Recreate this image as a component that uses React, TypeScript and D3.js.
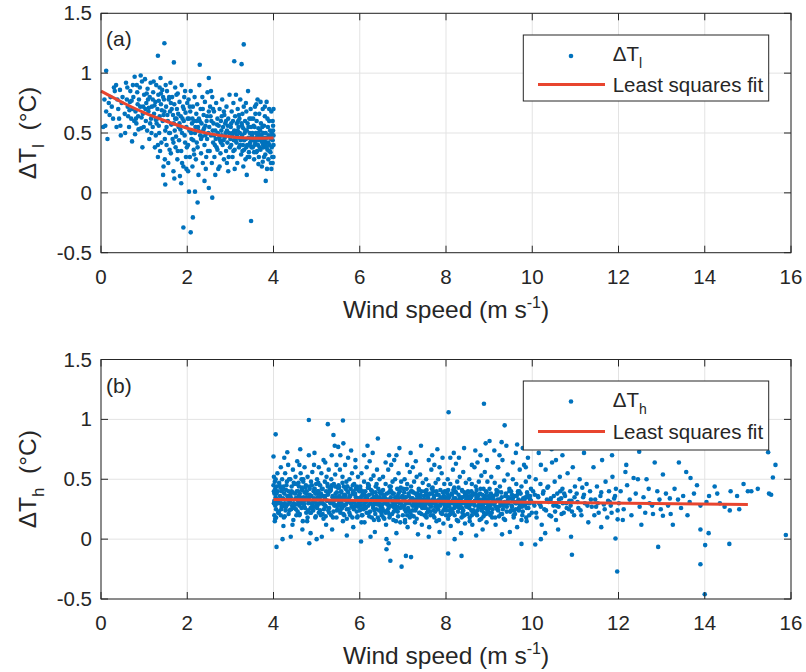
import React from "react";
import * as d3 from "d3";

type P = [number, number];

// ---------- Panel (a): ΔT_l vs wind speed (0–4 m/s) ----------
const lowWind0to1: P[] = [
  [0.12,1.02],[0.05,0.55],[0.1,0.56],[0.15,0.45],[0.2,0.65],[0.25,0.72],[0.3,0.88],[0.32,0.85],[0.35,0.9],[0.38,0.78],[0.4,0.7],[0.42,0.62],[0.45,0.56],[0.48,0.75],[0.5,0.8],[0.12,0.68],[0.22,0.8],[0.28,0.62],[0.36,0.55],[0.44,0.86],[0.46,0.48],[0.18,0.75],[0.08,0.78],
  [0.55,0.66],[0.58,0.92],[0.6,0.78],[0.62,0.72],[0.65,0.55],[0.68,0.85],[0.7,0.62],[0.72,0.43],[0.75,0.8],[0.78,0.97],[0.8,0.68],[0.82,0.58],[0.85,0.74],[0.87,0.53],[0.9,0.88],[0.92,0.98],[0.94,0.63],[0.96,0.38],[0.98,0.72],[1.0,0.82],[0.56,0.5],[0.63,0.64],[0.67,0.76],[0.73,0.7],[0.77,0.6],[0.83,0.9],[0.86,0.64],[0.88,0.78],[0.93,0.54],[0.97,0.66],[0.99,0.55],[0.61,0.88],[0.71,0.77],[0.79,0.49],[0.84,0.84],[0.91,0.72],[0.95,0.93],[0.66,0.69],[0.74,0.9],[0.81,0.62],
];
const lowWind1to2: P[] = [
  [1.47,1.25],[1.32,1.145],[1.69,1.09],[1.49,0.07],[1.91,-0.29],
  [1.02,0.95],[1.04,0.6],[1.05,0.75],[1.07,0.52],[1.08,0.87],[1.1,0.68],[1.12,0.45],[1.13,0.8],[1.15,0.92],[1.16,0.62],[1.18,0.72],[1.2,0.55],[1.21,0.84],[1.23,0.66],[1.25,0.38],[1.26,0.76],[1.28,0.9],[1.29,0.58],[1.31,0.7],[1.32,0.3],[1.33,0.82],[1.35,0.5],[1.36,0.64],[1.38,0.96],[1.39,0.74],[1.4,0.42],[1.42,0.86],[1.43,0.6],[1.45,0.22],[1.46,0.78],[1.47,0.68],[1.49,0.52],[1.5,0.9],[1.03,0.7],[1.09,0.78],[1.14,0.58],[1.19,0.64],[1.24,0.73],[1.27,0.48],[1.3,0.62],[1.34,0.77],[1.37,0.35],[1.41,0.69],[1.44,0.8],[1.48,0.45],[1.06,0.83],[1.11,0.71],[1.17,0.5],[1.22,0.93],[1.34,0.56],[1.39,0.83],[1.45,0.65],[1.32,0.4],[1.48,0.28],[1.44,0.15],[1.36,0.88],[1.27,0.61],[1.2,0.78],
  [1.51,0.72],[1.52,0.4],[1.53,0.85],[1.55,0.6],[1.56,0.25],[1.57,0.78],[1.58,0.5],[1.6,0.68],[1.61,0.92],[1.62,0.33],[1.63,0.57],[1.65,0.8],[1.66,0.45],[1.67,0.65],[1.68,0.18],[1.7,0.74],[1.71,0.52],[1.72,0.88],[1.73,0.38],[1.75,0.62],[1.76,0.7],[1.77,0.28],[1.78,0.83],[1.8,0.55],[1.81,0.44],[1.82,0.76],[1.83,0.14],[1.85,0.64],[1.86,0.35],[1.87,0.9],[1.88,0.5],[1.9,0.72],[1.91,0.22],[1.92,0.6],[1.93,0.8],[1.95,0.42],[1.96,0.67],[1.97,0.3],[1.98,0.55],[2.0,0.75],[1.54,0.65],[1.59,0.36],[1.64,0.7],[1.69,0.58],[1.74,0.47],[1.79,0.66],[1.84,0.53],[1.89,0.62],[1.94,0.48],[1.99,0.38],[1.52,0.55],[1.62,0.75],[1.72,0.62],[1.82,0.58],[1.92,0.7],[1.58,0.8],[1.68,0.42],[1.78,0.35],[1.88,0.25],[1.98,0.2],[1.7,0.12],[1.86,0.08],[1.6,0.5],[1.75,0.82],[1.95,0.85],
];
const lowWind2to3: P[] = [
  [2.29,1.07],[2.5,0.96],[2.04,0.01],[2.18,0.01],[2.24,-0.08],[2.13,-0.205],[2.08,-0.33],[2.5,0.04],[2.58,-0.04],
  [2.01,0.62],[2.02,0.4],[2.03,0.78],[2.05,0.52],[2.06,0.3],[2.07,0.68],[2.08,0.85],[2.1,0.45],[2.11,0.58],[2.12,0.22],[2.13,0.72],[2.15,0.36],[2.16,0.6],[2.17,0.8],[2.18,0.5],[2.2,0.28],[2.21,0.66],[2.22,0.42],[2.23,0.74],[2.25,0.55],[2.26,0.15],[2.27,0.62],[2.28,0.9],[2.3,0.48],[2.31,0.7],[2.32,0.33],[2.33,0.58],[2.35,0.8],[2.36,0.25],[2.37,0.52],[2.38,0.65],[2.4,0.4],[2.41,0.76],[2.42,0.56],[2.43,0.2],[2.45,0.6],[2.46,0.45],[2.47,0.84],[2.48,0.35],[2.5,0.68],[2.04,0.62],[2.09,0.5],[2.14,0.44],[2.19,0.55],[2.24,0.38],[2.29,0.6],[2.34,0.47],[2.39,0.54],[2.44,0.3],[2.49,0.5],[2.06,0.72],[2.16,0.32],[2.26,0.52],[2.36,0.7],[2.46,0.64],[2.12,0.62],[2.22,0.6],[2.32,0.45],[2.42,0.48],[2.02,0.18],[2.4,0.1],
  [2.51,0.55],[2.52,0.35],[2.53,0.72],[2.55,0.48],[2.56,0.6],[2.57,0.25],[2.58,0.8],[2.6,0.42],[2.61,0.58],[2.62,0.68],[2.63,0.3],[2.65,0.52],[2.66,0.45],[2.67,0.75],[2.68,0.38],[2.7,0.62],[2.71,0.5],[2.72,0.2],[2.73,0.56],[2.75,0.7],[2.76,0.44],[2.77,0.33],[2.78,0.6],[2.8,0.48],[2.81,0.78],[2.82,0.4],[2.83,0.55],[2.85,0.28],[2.86,0.65],[2.87,0.46],[2.88,0.58],[2.9,0.35],[2.91,0.72],[2.92,0.52],[2.93,0.42],[2.95,0.62],[2.96,0.3],[2.97,0.5],[2.98,0.82],[3.0,0.45],[2.54,0.64],[2.59,0.52],[2.64,0.4],[2.69,0.57],[2.74,0.46],[2.79,0.52],[2.84,0.44],[2.89,0.5],[2.94,0.56],[2.99,0.38],[2.55,0.85],[2.65,0.15],[2.75,0.22],[2.85,0.68],[2.95,0.18],[2.6,0.7],[2.7,0.36],[2.8,0.64],[2.9,0.6],[2.62,0.48],[2.78,0.42],[2.92,0.25],
];
const lowWind3to4: P[] = [
  [3.09,1.1],[3.26,1.075],[3.31,1.24],[3.48,-0.235],[3.82,0.1],[3.38,0.15],
  [3.01,0.55],[3.02,0.4],[3.03,0.68],[3.04,0.48],[3.05,0.3],[3.06,0.6],[3.07,0.75],[3.08,0.44],[3.09,0.52],[3.1,0.36],[3.11,0.64],[3.12,0.5],[3.13,0.82],[3.14,0.42],[3.15,0.58],[3.16,0.25],[3.17,0.7],[3.18,0.46],[3.19,0.55],[3.2,0.38],[3.21,0.62],[3.22,0.5],[3.23,0.78],[3.24,0.44],[3.25,0.32],[3.26,0.58],[3.27,0.48],[3.28,0.66],[3.29,0.4],[3.3,0.54],[3.31,0.72],[3.32,0.36],[3.33,0.5],[3.34,0.6],[3.35,0.28],[3.36,0.45],[3.37,0.68],[3.38,0.52],[3.39,0.4],[3.4,0.58],[3.41,0.85],[3.42,0.46],[3.43,0.34],[3.44,0.62],[3.45,0.5],[3.46,0.42],[3.47,0.7],[3.48,0.55],[3.49,0.38],[3.5,0.48],[3.02,0.58],[3.07,0.35],[3.12,0.44],[3.17,0.52],[3.22,0.4],[3.27,0.56],[3.32,0.44],[3.37,0.38],[3.42,0.55],[3.47,0.45],[3.05,0.5],[3.15,0.48],[3.25,0.45],[3.35,0.52],[3.45,0.4],[3.1,0.2],[3.3,0.22],[3.4,0.3],[3.2,0.65],[3.36,0.75],[3.44,0.3],[3.48,0.62],[3.28,0.35],[3.18,0.6],
  [3.51,0.5],[3.52,0.38],[3.53,0.62],[3.54,0.44],[3.55,0.28],[3.56,0.55],[3.57,0.72],[3.58,0.42],[3.59,0.5],[3.6,0.34],[3.61,0.6],[3.62,0.47],[3.63,0.78],[3.64,0.4],[3.65,0.54],[3.66,0.3],[3.67,0.66],[3.68,0.45],[3.69,0.52],[3.7,0.36],[3.71,0.58],[3.72,0.48],[3.73,0.22],[3.74,0.42],[3.75,0.7],[3.76,0.5],[3.77,0.38],[3.78,0.56],[3.79,0.44],[3.8,0.64],[3.81,0.32],[3.82,0.5],[3.83,0.42],[3.84,0.76],[3.85,0.46],[3.86,0.36],[3.87,0.55],[3.88,0.28],[3.89,0.48],[3.9,0.6],[3.91,0.4],[3.92,0.52],[3.93,0.34],[3.94,0.45],[3.95,0.68],[3.96,0.5],[3.97,0.3],[3.98,0.44],[3.99,0.56],[4.0,0.4],[3.52,0.46],[3.56,0.4],[3.6,0.45],[3.64,0.5],[3.68,0.38],[3.72,0.44],[3.76,0.4],[3.8,0.46],[3.84,0.38],[3.88,0.42],[3.92,0.47],[3.96,0.38],[4.0,0.48],[3.54,0.56],[3.62,0.35],[3.7,0.48],[3.78,0.3],[3.86,0.62],[3.94,0.25],[3.58,0.66],[3.66,0.44],[3.74,0.55],[3.82,0.4],[3.9,0.35],[3.98,0.6],[3.98,0.25],[4.0,0.3],[3.95,0.2],[3.85,0.2],[3.75,0.26],[3.65,0.24],[3.55,0.34],[3.6,0.74],[3.7,0.76],[3.8,0.72],[3.9,0.7],[4.0,0.7],[3.99,0.52],
];
const lowWindFit: P[] = [[0,0.85],[0.5,0.755],[1,0.67],[1.5,0.6],[2,0.54],[2.5,0.495],[3,0.468],[3.5,0.456],[4,0.458]];

// ---------- Panel (b): ΔT_h vs wind speed (4–16 m/s) ----------
const highWind4to6: P[] = [
  [4.05,0.875],[4.0,0.69],[4.32,0.725],[4.07,-0.065],[4.21,0.0],[4.23,0.11],[4.83,-0.035],[4.82,0.995],[5.26,0.96],[5.61,0.99],[5.39,0.87],[5.42,0.78],[5.5,0.77],
  [4.0,0.45],[4.01,0.3],[4.01,0.52],[4.02,0.38],[4.02,0.2],[4.03,0.48],[4.03,0.15],[4.04,0.42],[4.04,0.28],[4.05,0.5],[4.05,0.35],[4.06,0.25],[4.07,0.44],[4.08,0.32],[4.09,0.55],[4.1,0.4],[4.12,0.22],[4.13,0.47],[4.15,0.36],[4.17,0.6],[4.18,0.3],[4.2,0.5],[4.22,0.42],[4.24,0.18],[4.25,0.38],[4.27,0.55],[4.29,0.27],[4.3,0.45],[4.32,0.33],[4.34,0.62],[4.35,0.4],[4.37,0.24],[4.39,0.5],[4.4,0.35],[4.42,0.44],[4.44,0.12],[4.45,0.58],[4.47,0.3],[4.48,0.46],[4.5,0.38],[4.11,0.32],[4.19,0.4],[4.26,0.3],[4.36,0.5],[4.43,0.28],
  [4.51,0.52],[4.52,0.25],[4.54,0.4],[4.55,0.65],[4.57,0.32],[4.58,0.47],[4.6,0.2],[4.61,0.38],[4.63,0.55],[4.64,0.3],[4.66,0.43],[4.67,0.08],[4.69,0.5],[4.7,0.35],[4.72,0.6],[4.73,0.26],[4.75,0.45],[4.76,0.38],[4.78,0.15],[4.79,0.52],[4.81,0.32],[4.82,0.7],[4.84,0.42],[4.85,0.22],[4.87,0.48],[4.88,0.36],[4.9,0.56],[4.91,0.28],[4.93,0.4],[4.94,0.62],[4.96,0.33],[4.97,0.18],[4.99,0.46],[5.0,0.3],[4.53,0.34],[4.59,0.44],[4.65,0.5],[4.71,0.29],[4.77,0.4],[4.83,0.35],[4.89,0.26],[4.95,0.42],[4.62,0.75],[4.86,0.05],
  [5.01,0.5],[5.02,0.28],[5.04,0.4],[5.05,0.6],[5.07,0.34],[5.08,0.45],[5.1,0.2],[5.11,0.55],[5.13,0.3],[5.14,0.42],[5.16,0.66],[5.17,0.25],[5.19,0.48],[5.2,0.36],[5.22,0.12],[5.23,0.52],[5.25,0.32],[5.26,0.44],[5.28,0.58],[5.29,0.22],[5.31,0.4],[5.32,0.3],[5.34,0.5],[5.35,0.7],[5.37,0.35],[5.38,0.18],[5.4,0.46],[5.41,0.28],[5.43,0.54],[5.44,0.38],[5.46,0.62],[5.47,0.24],[5.49,0.43],[5.5,0.33],[5.03,0.38],[5.09,0.3],[5.15,0.36],[5.21,0.27],[5.27,0.38],[5.33,0.41],[5.39,0.32],[5.45,0.28],[5.12,0.02],[5.36,0.08],
  [5.51,0.45],[5.52,0.3],[5.54,0.58],[5.55,0.22],[5.57,0.4],[5.58,0.34],[5.6,0.52],[5.61,0.15],[5.63,0.44],[5.64,0.28],[5.66,0.62],[5.67,0.36],[5.69,0.48],[5.7,0.25],[5.72,0.4],[5.73,0.68],[5.75,0.32],[5.76,0.5],[5.78,0.2],[5.79,0.42],[5.81,0.3],[5.82,0.55],[5.84,0.38],[5.85,0.1],[5.87,0.46],[5.88,0.27],[5.9,0.6],[5.91,0.35],[5.93,0.44],[5.94,0.18],[5.96,0.52],[5.97,0.3],[5.99,0.4],[6.0,0.24],[5.53,0.36],[5.59,0.27],[5.65,0.33],[5.71,0.44],[5.77,0.36],[5.83,0.31],[5.89,0.38],[5.95,0.34],[5.62,0.8],[5.8,0.74],
];
const highWind6to8: P[] = [
  [6.03,-0.02],[6.62,-0.085],[6.67,-0.035],[6.71,-0.18],[6.97,-0.23],[7.07,-0.14],[7.19,-0.15],
  [6.01,0.42],[6.02,0.28],[6.04,0.55],[6.05,0.2],[6.07,0.38],[6.08,0.32],[6.1,0.48],[6.11,0.14],[6.13,0.4],[6.14,0.26],[6.16,0.6],[6.17,0.34],[6.19,0.46],[6.2,0.22],[6.22,0.37],[6.23,0.65],[6.25,0.3],[6.26,0.5],[6.28,0.18],[6.29,0.4],[6.31,0.28],[6.32,0.53],[6.34,0.35],[6.35,0.06],[6.37,0.44],[6.38,0.25],[6.4,0.58],[6.41,0.33],[6.43,0.42],[6.44,0.16],[6.46,0.5],[6.47,0.29],[6.49,0.38],[6.5,0.22],[6.03,0.35],[6.09,0.25],[6.15,0.31],[6.21,0.43],[6.27,0.33],[6.33,0.29],[6.39,0.36],[6.45,0.32],[6.18,0.78],[6.3,0.72],[6.42,0.84],
  [6.51,0.4],[6.52,0.26],[6.54,0.52],[6.55,0.18],[6.57,0.36],[6.58,0.3],[6.6,0.46],[6.61,0.12],[6.63,0.38],[6.64,0.24],[6.66,0.58],[6.67,0.32],[6.69,0.44],[6.7,0.2],[6.72,0.35],[6.73,0.62],[6.75,0.28],[6.76,0.48],[6.78,0.16],[6.79,0.38],[6.81,0.26],[6.82,0.5],[6.84,0.33],[6.85,0.05],[6.87,0.42],[6.88,0.23],[6.9,0.55],[6.91,0.31],[6.93,0.4],[6.94,0.14],[6.96,0.48],[6.97,0.27],[6.99,0.36],[7.0,0.2],[6.53,0.33],[6.59,0.23],[6.65,0.29],[6.71,0.41],[6.77,0.31],[6.83,0.27],[6.89,0.34],[6.95,0.3],[6.68,0.7],[6.8,0.66],[6.92,0.76],[6.62,0.0],
  [7.01,0.42],[7.02,0.28],[7.04,0.5],[7.05,0.16],[7.07,0.35],[7.08,0.3],[7.1,0.46],[7.11,0.1],[7.13,0.38],[7.14,0.24],[7.16,0.56],[7.17,0.32],[7.19,0.44],[7.2,0.2],[7.22,0.34],[7.23,0.6],[7.25,0.28],[7.26,0.48],[7.28,0.14],[7.29,0.38],[7.31,0.26],[7.32,0.52],[7.34,0.33],[7.35,0.04],[7.37,0.42],[7.38,0.22],[7.4,0.54],[7.41,0.31],[7.43,0.4],[7.44,0.12],[7.46,0.47],[7.47,0.27],[7.49,0.36],[7.5,0.2],[7.03,0.34],[7.09,0.24],[7.15,0.3],[7.21,0.4],[7.27,0.31],[7.33,0.28],[7.39,0.35],[7.45,0.3],[7.18,0.72],[7.3,0.65],[7.42,0.78],
  [7.51,0.4],[7.52,0.27],[7.54,0.5],[7.55,0.18],[7.57,0.36],[7.58,0.3],[7.6,0.45],[7.61,0.1],[7.63,0.38],[7.64,0.23],[7.66,0.58],[7.67,0.32],[7.69,0.43],[7.7,0.2],[7.72,0.34],[7.73,0.62],[7.75,0.27],[7.76,0.47],[7.78,0.15],[7.79,0.37],[7.81,0.25],[7.82,0.5],[7.84,0.33],[7.85,0.06],[7.87,0.41],[7.88,0.22],[7.9,0.55],[7.91,0.3],[7.93,0.39],[7.94,0.13],[7.96,0.46],[7.97,0.26],[7.99,0.35],[8.0,0.2],[7.53,0.33],[7.59,0.24],[7.65,0.29],[7.71,0.4],[7.77,0.31],[7.83,0.28],[7.89,0.34],[7.95,0.3],[7.68,0.7],[7.8,0.75],[7.92,0.68],
];
const highWind8to10: P[] = [
  [8.06,1.06],[8.88,1.13],[9.36,0.95],[9.01,0.82],[9.29,0.81],[9.65,0.79],[8.05,-0.12],[8.36,-0.14],[9.75,-0.04],
  [8.01,0.4],[8.02,0.27],[8.04,0.5],[8.05,0.17],[8.07,0.35],[8.08,0.3],[8.1,0.46],[8.11,0.11],[8.13,0.38],[8.14,0.24],[8.16,0.58],[8.17,0.32],[8.19,0.43],[8.2,0.2],[8.22,0.34],[8.23,0.63],[8.25,0.28],[8.26,0.48],[8.28,0.15],[8.29,0.37],[8.31,0.26],[8.32,0.52],[8.34,0.33],[8.35,0.05],[8.37,0.41],[8.38,0.22],[8.4,0.56],[8.41,0.31],[8.43,0.39],[8.44,0.13],[8.46,0.47],[8.47,0.27],[8.49,0.36],[8.5,0.21],[8.03,0.33],[8.09,0.24],[8.15,0.3],[8.21,0.4],[8.27,0.31],[8.33,0.28],[8.39,0.35],[8.45,0.3],[8.18,0.72],[8.3,0.68],[8.42,0.76],
  [8.51,0.4],[8.52,0.28],[8.54,0.5],[8.55,0.18],[8.57,0.36],[8.58,0.3],[8.6,0.46],[8.61,0.12],[8.63,0.38],[8.64,0.24],[8.66,0.6],[8.67,0.32],[8.69,0.44],[8.7,0.21],[8.72,0.34],[8.73,0.64],[8.75,0.28],[8.76,0.48],[8.78,0.16],[8.79,0.38],[8.81,0.26],[8.82,0.53],[8.84,0.33],[8.85,0.08],[8.87,0.42],[8.88,0.22],[8.9,0.56],[8.91,0.31],[8.93,0.4],[8.94,0.14],[8.96,0.48],[8.97,0.27],[8.99,0.36],[9.0,0.22],[8.53,0.33],[8.59,0.24],[8.65,0.3],[8.71,0.41],[8.77,0.31],[8.83,0.28],[8.89,0.35],[8.95,0.3],[8.68,0.74],[8.8,0.7],[8.92,0.8],
  [9.01,0.42],[9.03,0.28],[9.05,0.52],[9.07,0.18],[9.09,0.36],[9.11,0.3],[9.13,0.47],[9.15,0.12],[9.17,0.38],[9.19,0.25],[9.21,0.6],[9.23,0.33],[9.25,0.44],[9.27,0.21],[9.29,0.35],[9.31,0.66],[9.33,0.28],[9.35,0.49],[9.37,0.16],[9.39,0.38],[9.41,0.27],[9.43,0.54],[9.45,0.34],[9.47,0.42],[9.49,0.23],[9.02,0.34],[9.08,0.25],[9.14,0.31],[9.2,0.4],[9.26,0.32],[9.32,0.29],[9.38,0.36],[9.44,0.3],[9.12,0.74],[9.24,0.7],[9.4,0.78],[9.48,0.06],
  [9.51,0.4],[9.53,0.27],[9.55,0.5],[9.57,0.18],[9.59,0.36],[9.61,0.3],[9.63,0.46],[9.65,0.1],[9.67,0.38],[9.69,0.24],[9.71,0.58],[9.73,0.32],[9.75,0.44],[9.77,0.2],[9.79,0.34],[9.81,0.62],[9.83,0.28],[9.85,0.48],[9.87,0.15],[9.89,0.37],[9.91,0.26],[9.93,0.52],[9.95,0.33],[9.97,0.42],[9.99,0.22],[9.52,0.34],[9.58,0.24],[9.64,0.3],[9.7,0.4],[9.76,0.31],[9.82,0.29],[9.88,0.35],[9.94,0.3],[9.62,0.72],[9.78,0.76],[9.9,0.68],
];
// dense core of the high-wind cloud (4–12 m/s, around 0.15–0.5 °C)
const highWindCore4to7: P[] = [
  [4.03,0.31],[4.11,0.22],[4.07,0.38],[4.19,0.27],[4.14,0.45],[4.26,0.19],[4.22,0.34],[4.33,0.29],[4.29,0.41],[4.41,0.25],[4.37,0.36],[4.46,0.16],[4.02,0.32],[4.16,0.43],[4.24,0.28],[4.35,0.21],[4.44,0.39],[4.09,0.33],[4.31,0.48],[4.48,0.26],[4.01,0.4],[4.06,0.18],[4.13,0.3],[4.21,0.42],[4.28,0.24],[4.39,0.37],[4.05,0.29],[4.47,0.47],[4.17,0.2],[4.34,0.34],[4.27,0.27],[4.42,0.4],[4.12,0.23],[4.38,0.31],[4.23,0.44],[4.04,0.17],[4.32,0.36],[4.45,0.28],[4.08,0.33],[4.18,0.25],
  [4.52,0.29],[4.58,0.36],[4.61,0.21],[4.66,0.41],[4.71,0.27],[4.74,0.33],[4.79,0.18],[4.83,0.44],[4.88,0.3],[4.92,0.24],[4.97,0.38],[4.54,0.46],[4.63,0.32],[4.68,0.15],[4.77,0.35],[4.86,0.26],[4.95,0.42],[4.56,0.23],[4.72,0.39],[4.9,0.29],[4.51,0.34],[4.6,0.28],[4.69,0.48],[4.76,0.22],[4.84,0.37],[4.93,0.31],[4.98,0.19],[4.57,0.4],[4.65,0.26],[4.81,0.3],[4.89,0.45],[4.53,0.2],[4.74,0.43],[4.96,0.27],[4.62,0.35],[4.87,0.22],[4.7,0.31],[4.8,0.24],[4.94,0.34],[4.59,0.3],
  [5.02,0.35],[5.08,0.24],[5.12,0.42],[5.17,0.29],[5.21,0.19],[5.26,0.37],[5.31,0.31],[5.35,0.45],[5.39,0.23],[5.44,0.33],[5.48,0.28],[5.04,0.47],[5.14,0.21],[5.22,0.4],[5.29,0.26],[5.37,0.36],[5.46,0.18],[5.06,0.3],[5.19,0.34],[5.33,0.43],[5.01,0.26],[5.1,0.38],[5.16,0.17],[5.24,0.32],[5.3,0.41],[5.41,0.29],[5.47,0.39],[5.05,0.22],[5.13,0.31],[5.27,0.24],[5.36,0.3],[5.43,0.44],[5.09,0.36],[5.2,0.28],[5.34,0.2],[5.45,0.35],[5.03,0.4],[5.25,0.46],[5.38,0.33],[5.49,0.25],
  [5.53,0.28],[5.57,0.39],[5.62,0.21],[5.66,0.33],[5.71,0.44],[5.74,0.25],[5.78,0.36],[5.83,0.18],[5.87,0.31],[5.91,0.42],[5.96,0.27],[5.51,0.35],[5.6,0.47],[5.68,0.29],[5.76,0.22],[5.85,0.4],[5.94,0.33],[5.55,0.24],[5.72,0.31],[5.89,0.37],[5.52,0.43],[5.59,0.26],[5.65,0.37],[5.7,0.17],[5.79,0.3],[5.84,0.45],[5.93,0.23],[5.98,0.34],[5.56,0.32],[5.64,0.2],[5.73,0.39],[5.81,0.27],[5.9,0.29],[5.97,0.41],[5.58,0.3],[5.67,0.42],[5.75,0.34],[5.86,0.25],[5.95,0.19],[5.63,0.36],
  [6.02,0.31],[6.06,0.2],[6.11,0.37],[6.15,0.27],[6.19,0.43],[6.24,0.23],[6.28,0.33],[6.33,0.16],[6.37,0.39],[6.41,0.29],[6.46,0.35],[6.01,0.44],[6.09,0.26],[6.17,0.32],[6.26,0.41],[6.34,0.24],[6.43,0.3],[6.05,0.36],[6.22,0.19],[6.39,0.46],[6.03,0.25],[6.13,0.34],[6.2,0.28],[6.29,0.38],[6.36,0.21],[6.44,0.33],[6.48,0.27],[6.07,0.4],[6.16,0.22],[6.25,0.3],[6.32,0.35],[6.42,0.18],[6.1,0.29],[6.21,0.45],[6.31,0.26],[6.47,0.39],[6.04,0.14],[6.18,0.36],[6.35,0.31],[6.45,0.24],
  [6.52,0.29],[6.56,0.37],[6.6,0.22],[6.65,0.33],[6.69,0.18],[6.73,0.4],[6.78,0.27],[6.82,0.35],[6.86,0.24],[6.91,0.31],[6.95,0.43],[6.51,0.2],[6.59,0.34],[6.67,0.26],[6.76,0.38],[6.84,0.15],[6.93,0.3],[6.54,0.41],[6.71,0.28],[6.88,0.36],[6.53,0.25],[6.62,0.31],[6.68,0.39],[6.75,0.21],[6.8,0.32],[6.87,0.27],[6.97,0.35],[6.57,0.17],[6.64,0.29],[6.72,0.44],[6.79,0.23],[6.9,0.38],[6.58,0.33],[6.66,0.22],[6.83,0.3],[6.94,0.26],[6.55,0.36],[6.74,0.32],[6.89,0.19],[6.98,0.28],
];
const highWindCore7to12: P[] = [
  [7.02,0.27],[7.06,0.35],[7.1,0.2],[7.15,0.31],[7.19,0.4],[7.23,0.24],[7.28,0.33],[7.32,0.17],[7.36,0.29],[7.41,0.37],[7.45,0.26],[7.01,0.32],[7.09,0.42],[7.17,0.22],[7.26,0.3],[7.34,0.38],[7.43,0.21],[7.04,0.25],[7.21,0.34],[7.38,0.28],[7.03,0.39],[7.12,0.26],[7.18,0.33],[7.25,0.19],[7.3,0.31],[7.37,0.41],[7.47,0.3],[7.07,0.23],[7.14,0.36],[7.22,0.28],[7.29,0.24],[7.4,0.34],[7.08,0.3],[7.16,0.18],[7.33,0.36],[7.44,0.27],[7.05,0.14],[7.24,0.39],[7.39,0.22],[7.48,0.33],
  [7.52,0.3],[7.56,0.22],[7.6,0.37],[7.65,0.27],[7.69,0.33],[7.73,0.18],[7.78,0.4],[7.82,0.25],[7.86,0.31],[7.91,0.21],[7.95,0.36],[7.51,0.26],[7.59,0.34],[7.67,0.42],[7.76,0.29],[7.84,0.16],[7.93,0.33],[7.54,0.38],[7.71,0.24],[7.88,0.35],[7.53,0.19],[7.62,0.29],[7.68,0.38],[7.75,0.23],[7.8,0.32],[7.87,0.28],[7.97,0.4],[7.57,0.33],[7.64,0.2],[7.72,0.36],[7.79,0.27],[7.9,0.31],[7.58,0.25],[7.66,0.3],[7.83,0.37],[7.94,0.24],[7.55,0.41],[7.74,0.3],[7.89,0.22],[7.98,0.28],
  [8.02,0.29],[8.06,0.36],[8.1,0.21],[8.15,0.32],[8.19,0.26],[8.23,0.39],[8.28,0.23],[8.32,0.34],[8.36,0.18],[8.41,0.3],[8.45,0.37],[8.01,0.24],[8.09,0.31],[8.17,0.41],[8.26,0.27],[8.34,0.35],[8.43,0.2],[8.04,0.33],[8.21,0.28],[8.38,0.4],[8.03,0.38],[8.12,0.25],[8.18,0.34],[8.25,0.16],[8.3,0.3],[8.37,0.26],[8.47,0.33],[8.07,0.2],[8.14,0.37],[8.22,0.3],[8.29,0.43],[8.4,0.24],[8.08,0.27],[8.16,0.22],[8.33,0.29],[8.44,0.36],[8.05,0.41],[8.24,0.32],[8.39,0.19],[8.48,0.28],
  [8.52,0.27],[8.56,0.34],[8.6,0.2],[8.65,0.31],[8.69,0.38],[8.73,0.24],[8.78,0.33],[8.82,0.17],[8.86,0.29],[8.91,0.36],[8.95,0.25],[8.51,0.31],[8.59,0.4],[8.67,0.22],[8.76,0.28],[8.84,0.37],[8.93,0.21],[8.54,0.26],[8.71,0.35],[8.88,0.3],[8.53,0.39],[8.62,0.23],[8.68,0.32],[8.75,0.27],[8.8,0.42],[8.87,0.19],[8.97,0.33],[8.57,0.29],[8.64,0.37],[8.72,0.2],[8.79,0.3],[8.9,0.26],[8.58,0.35],[8.66,0.28],[8.83,0.24],[8.94,0.39],[8.55,0.15],[8.74,0.36],[8.89,0.32],[8.98,0.23],
  [9.02,0.3],[9.06,0.22],[9.1,0.36],[9.15,0.27],[9.19,0.33],[9.23,0.19],[9.28,0.39],[9.32,0.25],[9.36,0.31],[9.41,0.23],[9.45,0.35],[9.01,0.26],[9.09,0.33],[9.17,0.41],[9.26,0.28],[9.34,0.17],[9.43,0.32],[9.04,0.38],[9.21,0.24],[9.38,0.36],[9.03,0.2],[9.12,0.29],[9.18,0.37],[9.25,0.31],[9.3,0.21],[9.37,0.28],[9.47,0.4],[9.07,0.34],[9.14,0.18],[9.22,0.27],
  [9.52,0.28],[9.56,0.35],[9.6,0.21],[9.65,0.31],[9.69,0.26],[9.73,0.38],[9.78,0.23],[9.82,0.33],[9.86,0.18],[9.91,0.3],[9.95,0.36],[9.51,0.24],[9.59,0.31],[9.67,0.4],[9.76,0.27],[9.84,0.35],[9.93,0.2],[9.54,0.33],[9.71,0.29],[9.88,0.39],[9.53,0.37],[9.62,0.25],[9.68,0.33],[9.75,0.16],[9.8,0.3],[9.87,0.26],[9.97,0.32],[9.57,0.2],[9.64,0.36],[9.72,0.29],
  [10.03,0.3],[10.09,0.22],[10.14,0.35],[10.2,0.27],[10.26,0.4],[10.32,0.24],[10.38,0.31],[10.44,0.19],[10.5,0.36],[10.56,0.28],[10.62,0.33],[10.68,0.21],[10.74,0.38],[10.8,0.26],[10.86,0.32],[10.92,0.23],[10.98,0.35],[10.06,0.37],[10.18,0.29],[10.35,0.43],[10.53,0.23],[10.71,0.3],[10.89,0.28],[10.42,0.32],[10.65,0.4],
  [11.05,0.31],[11.12,0.24],[11.2,0.37],[11.28,0.28],[11.36,0.33],[11.44,0.2],[11.52,0.3],[11.6,0.39],[11.68,0.25],[11.76,0.32],[11.84,0.22],[11.92,0.36],[11.16,0.43],[11.48,0.27],[11.8,0.31],
];
const highWindTails: P[] = [
  [4.25,0.68],[4.6,0.62],[4.95,0.72],[5.2,0.64],[5.55,0.7],[5.9,0.66],[6.1,0.7],[6.6,0.64],[6.85,0.7],[7.1,0.62],[7.6,0.66],[7.85,0.6],[8.1,0.68],[8.6,0.62],[8.95,0.66],[9.2,0.6],[9.55,0.64],[9.85,0.6],[10.2,0.62],[10.55,0.66],
  [4.4,0.02],[5.0,0.0],[5.7,0.03],[6.25,0.02],[7.6,0.02],[8.2,0.0],[8.7,0.03],[9.3,0.04],
];
const highWind10to16: P[] = [
  [10.07,-0.045],[10.2,0.0],[10.92,-0.13],[11.97,-0.27],[12.92,-0.065],[13.9,-0.21],[14.0,-0.46],[14.01,-0.05],[14.57,-0.04],[14.09,0.05],[13.9,0.08],[15.88,0.035],[12.48,0.73],[15.47,0.725],[15.64,0.62],[15.58,0.515],
  [10.02,0.4],[10.05,0.28],[10.08,0.5],[10.1,0.18],[10.13,0.36],[10.16,0.3],[10.19,0.46],[10.22,0.12],[10.25,0.38],[10.28,0.25],[10.31,0.58],[10.34,0.33],[10.37,0.44],[10.4,0.2],[10.43,0.34],[10.46,0.64],[10.49,0.28],[10.52,0.48],[10.55,0.16],[10.58,0.38],[10.61,0.27],[10.64,0.52],[10.67,0.34],[10.7,0.42],[10.73,0.22],[10.76,0.36],[10.79,0.3],[10.82,0.55],[10.85,0.25],[10.88,0.4],[10.91,0.32],[10.94,0.6],[10.97,0.2],[10.99,0.44],[10.15,0.72],[10.45,0.75],[10.7,0.7],[10.3,0.05],[10.6,0.08],[10.9,0.02],
  [11.03,0.38],[11.07,0.26],[11.1,0.5],[11.14,0.2],[11.18,0.35],[11.22,0.3],[11.26,0.46],[11.3,0.14],[11.34,0.4],[11.38,0.27],[11.42,0.6],[11.46,0.33],[11.5,0.44],[11.54,0.22],[11.58,0.36],[11.62,0.66],[11.66,0.29],[11.7,0.48],[11.74,0.18],[11.78,0.4],[11.82,0.28],[11.86,0.52],[11.9,0.34],[11.94,0.42],[11.98,0.24],[11.2,0.72],[11.6,0.1],[11.85,0.7],
  [12.18,0.62],[12.16,0.56],[12.35,0.51],[12.65,0.5],[12.84,0.64],[13.03,0.54],[13.4,0.64],[13.57,0.56],[13.67,0.51],[13.82,0.45],[14.23,0.44],[14.29,0.38],[14.75,0.36],[14.9,0.46],[15.0,0.4],[15.08,0.4],[15.23,0.42],[15.49,0.38],[15.54,0.37],
  [11.98,0.165],[12.1,0.16],[12.53,0.12],[13.26,0.12],[11.93,0.005],[13.03,0.195],[13.21,0.21],[12.8,0.21],
  [12.01,0.3],[12.26,0.33],[12.49,0.27],[12.72,0.3],[12.95,0.33],[13.19,0.34],[13.38,0.33],[13.65,0.31],[14.04,0.31],[14.46,0.27],[14.58,0.24],
  [12.05,0.4],[12.12,0.25],[12.2,0.45],[12.3,0.2],[12.4,0.38],[12.45,0.5],[12.58,0.35],[12.62,0.22],[12.7,0.42],[12.78,0.28],[12.9,0.4],[12.98,0.25],[13.1,0.38],[13.15,0.28],[13.3,0.42],[13.45,0.26],[13.5,0.36],[13.6,0.2],[13.75,0.38],[13.9,0.28],
  [14.1,0.36],[14.35,0.3],[14.6,0.4],[14.8,0.25],
];
const highWindFit: P[] = [[4,0.33],[15,0.29]];

const xTicks = [0, 2, 4, 6, 8, 10, 12, 14, 16];
const yTicks = [-0.5, 0, 0.5, 1, 1.5];
const yTickLabels = ["-0.5", "0", "0.5", "1", "1.5"];

const FONT = "'Liberation Sans', Arial, Helvetica, sans-serif";
const AX = "#262626";
const GRID = "#e3e3e3";
const BLUE = "#0072BD";
const RED = "#E8452F";

const x = d3.scaleLinear().domain([0, 16]).range([101, 791]);

interface PanelProps {
  top: number;
  bottom: number;
  points: P[];
  fit: P[];
  tag: string;
  sub: string;
  legend: { top: number; bottom: number; row1: number; row2: number };
}

function Panel({ top, bottom, points, fit, tag, sub, legend }: PanelProps) {
  const y = d3.scaleLinear().domain([-0.5, 1.5]).range([bottom, top]);
  const [x0, x1] = x.range();
  const tl = 7;
  const line = d3
    .line<P>()
    .x((d) => x(d[0]))
    .y((d) => y(d[1]))
    .curve(d3.curveMonotoneX);
  const cy = (top + bottom) / 2;
  const lx0 = 523.3, lx1 = 768.7;
  return (
    <g>
      {xTicks.map((t) => (
        <line key={"gx" + t} x1={x(t)} x2={x(t)} y1={top} y2={bottom} stroke={GRID} strokeWidth={1} />
      ))}
      {yTicks.map((t) => (
        <line key={"gy" + t} x1={x0} x2={x1} y1={y(t)} y2={y(t)} stroke={GRID} strokeWidth={1} />
      ))}
      {points.map((d, i) => (
        <circle key={i} cx={x(d[0])} cy={y(d[1])} r={2.3} fill={BLUE} />
      ))}
      <path d={line(fit) || ""} fill="none" stroke={RED} strokeWidth={3} />
      <rect x={x0} y={top} width={x1 - x0} height={bottom - top} fill="none" stroke={AX} strokeWidth={1} />
      {xTicks.map((t) => (
        <g key={"tx" + t}>
          <line x1={x(t)} x2={x(t)} y1={bottom} y2={bottom - tl} stroke={AX} />
          <line x1={x(t)} x2={x(t)} y1={top} y2={top + tl} stroke={AX} />
          <text x={x(t)} y={bottom + 31} textAnchor="middle" fontSize={20.5} fill={AX} fontFamily={FONT}>
            {t}
          </text>
        </g>
      ))}
      {yTicks.map((t, i) => (
        <g key={"ty" + t}>
          <line x1={x0} x2={x0 + tl} y1={y(t)} y2={y(t)} stroke={AX} />
          <line x1={x1} x2={x1 - tl} y1={y(t)} y2={y(t)} stroke={AX} />
          <text x={x0 - 9} y={y(t) + 7} textAnchor="end" fontSize={20.5} fill={AX} fontFamily={FONT}>
            {yTickLabels[i]}
          </text>
        </g>
      ))}
      <text x={106} y={top + 33} fontSize={21} fill={AX} fontFamily={FONT}>
        {tag}
      </text>
      <text x={(x0 + x1) / 2} y={bottom + 65} textAnchor="middle" fontSize={24.5} fill={AX} fontFamily={FONT}>
        Wind speed (m s<tspan dy={-10} fontSize={16}>-1</tspan>
        <tspan dy={10}>)</tspan>
      </text>
      <text
        transform={`translate(36,${cy}) rotate(-90)`}
        textAnchor="middle"
        fontSize={24.5}
        fill={AX}
        fontFamily={FONT}
        style={{ whiteSpace: "pre" }}
      >
        ΔT<tspan dy={8} fontSize={17}>{sub}</tspan>
        <tspan dy={-8}>{"  (°C)"}</tspan>
      </text>
      <rect x={lx0} y={legend.top} width={lx1 - lx0} height={legend.bottom - legend.top} fill="white" stroke={AX} strokeWidth={1} />
      <circle cx={571} cy={legend.row1 - 5} r={2.3} fill={BLUE} />
      <text x={612.7} y={legend.row1} fontSize={20.5} fill={AX} fontFamily={FONT}>
        ΔT<tspan dy={7} fontSize={14}>{sub}</tspan>
      </text>
      <line x1={538} x2={605} y1={legend.row2 - 7} y2={legend.row2 - 7} stroke={RED} strokeWidth={3} />
      <text x={612.7} y={legend.row2} fontSize={20.5} fill={AX} fontFamily={FONT}>
        Least squares fit
      </text>
    </g>
  );
}

export default function App() {
  const lowPts = [...lowWind0to1, ...lowWind1to2, ...lowWind2to3, ...lowWind3to4];
  const highPts = [
    ...highWind4to6,
    ...highWind6to8,
    ...highWind8to10,
    ...highWindCore4to7,
    ...highWindCore7to12,
    ...highWindTails,
    ...highWind10to16,
  ];
  return (
    <svg
      width={806}
      height={672}
      viewBox="0 0 806 672"
      style={{ position: "absolute", left: 0, top: 0, background: "white" }}
    >
      <rect width={806} height={672} fill="white" />
      <Panel
        top={13.3}
        bottom={252.7}
        points={lowPts}
        fit={lowWindFit}
        tag="(a)"
        sub="l"
        legend={{ top: 35, bottom: 101, row1: 61, row2: 91.5 }}
      />
      <Panel
        top={359.5}
        bottom={599}
        points={highPts}
        fit={highWindFit}
        tag="(b)"
        sub="h"
        legend={{ top: 381, bottom: 450, row1: 406.5, row2: 438.5 }}
      />
    </svg>
  );
}
